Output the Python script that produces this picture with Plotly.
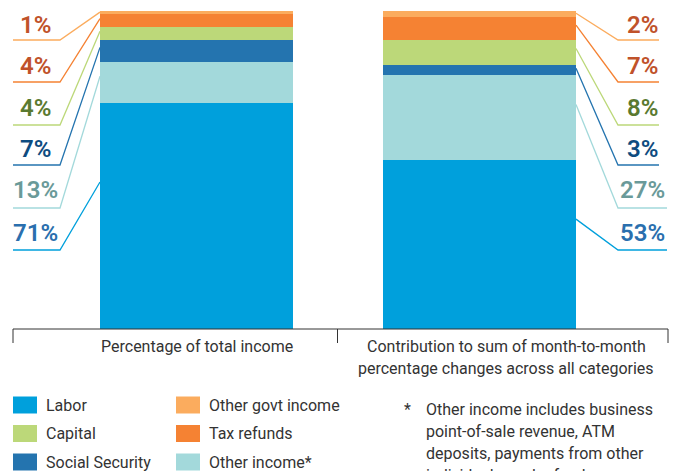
import plotly.graph_objects as go

# ---------------- data ----------------
categories = ["Percentage of total income",
              "Contribution to sum of month-to-month<br>percentage changes across all categories"]
series = ["Labor", "Other income*", "Social Security", "Capital", "Tax refunds", "Other govt income"]
labor = [71, 53]
other_income = [13, 27]
social_security = [7, 3]
capital = [4, 8]
tax_refunds = [4, 7]
other_govt = [1, 2]
values = [labor, other_income, social_security, capital, tax_refunds, other_govt]

legend_order = ["Labor", "Capital", "Social Security", "Other govt income", "Tax refunds", "Other income*"]
footnote = ["Other income includes business", "point-of-sale revenue, ATM",
            "deposits, payments from other", "individuals, and refunds"]

# ---------------- styles ----------------
fill = {"Labor": "#00A0DC", "Other income*": "#A3D9DB", "Social Security": "#2474AF",
        "Capital": "#BCD879", "Tax refunds": "#F58233", "Other govt income": "#FBAC5E"}
label_col = {"Labor": "#2A6FAE", "Other income*": "#6A9A99", "Social Security": "#0E4C80",
             "Capital": "#5A7A30", "Tax refunds": "#C0522A", "Other govt income": "#C0522A"}
FONT = "Roboto"
W, H = 678, 471
Y0, YTOP = 328.5, 11.0            # pixel rows of 0% and 100%
S = (Y0 - YTOP) / 100.0


def py(p):                          # pixel row -> y data value
    return (Y0 - p) / S


bar_x = [196.5, 479.5]
bar_w = 193

fig = go.Figure()
for name, vals in zip(series, values):
    fig.add_trace(go.Bar(x=bar_x, y=vals, width=bar_w, name=name,
                         marker=dict(color=fill[name], line=dict(width=0)),
                         hoverinfo="skip", showlegend=False))

# ---------------- leader lines & labels ----------------
label_rows = [233, 190, 149, 108, 66, 25]      # from bottom series to top
line_rows = [250, 208, 165, 125, 82, 40]
shapes = []
annotations = []
for b in range(2):
    cum = 0
    for i, (name, vals) in enumerate(zip(series, values)):
        v = vals[b]
        anchor = cum + v * 0.65
        cum += v
        txt = f"{v}%"
        if b == 0:
            edge = bar_x[0] - bar_w / 2
            hx0, hx1, cx = 13, 60, 35.5
            pts = [(hx0, py(line_rows[i])), (hx1, py(line_rows[i])), (edge, anchor)]
        else:
            edge = bar_x[1] + bar_w / 2
            cx = 642.5
            hx0, hx1 = 618, (667 if len(txt) > 2 else 659)
            pts = [(edge, anchor), (hx0, py(line_rows[i])), (hx1, py(line_rows[i]))]
        path = "M " + " L ".join(f"{x},{y}" for x, y in pts)
        shapes.append(dict(type="path", path=path, xref="x", yref="y",
                           line=dict(color=fill[name], width=1.3), layer="above"))
        annotations.append(dict(x=cx, y=py(label_rows[i]), xref="x", yref="y", text=txt,
                                showarrow=False, xanchor="center", yanchor="middle",
                                font=dict(family=FONT, size=24, color=label_col[name], weight=600)))

# ---------------- axis line & ticks ----------------
ax_y = py(329)
shapes.append(dict(type="line", x0=13, x1=668, y0=ax_y, y1=ax_y, xref="x", yref="y",
                   line=dict(color="#333333", width=1)))
for tx in [13, 337.5, 668]:
    shapes.append(dict(type="line", x0=tx, x1=tx, y0=ax_y, y1=py(343), xref="x", yref="y",
                       line=dict(color="#333333", width=1)))
annotations.append(dict(x=197, y=py(346), xref="x", yref="y", text=categories[0], showarrow=False,
                        xanchor="center", yanchor="middle",
                        font=dict(family=FONT, size=16, color="#333333")))
for k, ln in enumerate(categories[1].split("<br>")):
    annotations.append(dict(x=506, y=py(346 + 22 * k), xref="x", yref="y", text=ln, showarrow=False,
                            xanchor="center", yanchor="middle",
                            font=dict(family=FONT, size=16, color="#333333")))

# ---------------- legend ----------------
for k, name in enumerate(legend_order):
    col, row = divmod(k, 3)
    lx = 13 + col * 163
    ry = 405 + row * 28.5
    shapes.append(dict(type="rect", x0=lx, x1=lx + 24, y0=py(ry - 8.5), y1=py(ry + 8.5),
                       xref="x", yref="y", fillcolor=fill[name], line=dict(width=0)))
    annotations.append(dict(x=lx + 31, y=py(ry), xref="x", yref="y", text=name, showarrow=False,
                            xanchor="left", yanchor="middle",
                            font=dict(family=FONT, size=16, color="#333333")))

# ---------------- footnote ----------------
annotations.append(dict(x=402, y=py(409), xref="x", yref="y", text="*", showarrow=False,
                        xanchor="left", yanchor="middle",
                        font=dict(family=FONT, size=16, color="#333333")))
for k, ln in enumerate(footnote):
    annotations.append(dict(x=424, y=py(409 + 22 * k - 11), xref="x", yref="y", text=ln,
                            showarrow=False, xanchor="left", yanchor="top",
                            font=dict(family=FONT, size=16, color="#333333")))

fig.update_layout(
    width=W, height=H, barmode="stack", bargap=0,
    margin=dict(l=0, r=0, t=0, b=0),
    paper_bgcolor="white", plot_bgcolor="white",
    xaxis=dict(range=[0, W], visible=False, fixedrange=True),
    yaxis=dict(range=[py(H), py(0)], visible=False, fixedrange=True),
    shapes=shapes, annotations=annotations, showlegend=False,
)
fig.write_html("out.html", config={"displayModeBar": False},
               post_script="document.body.style.margin='0';document.body.style.overflow='hidden';")
